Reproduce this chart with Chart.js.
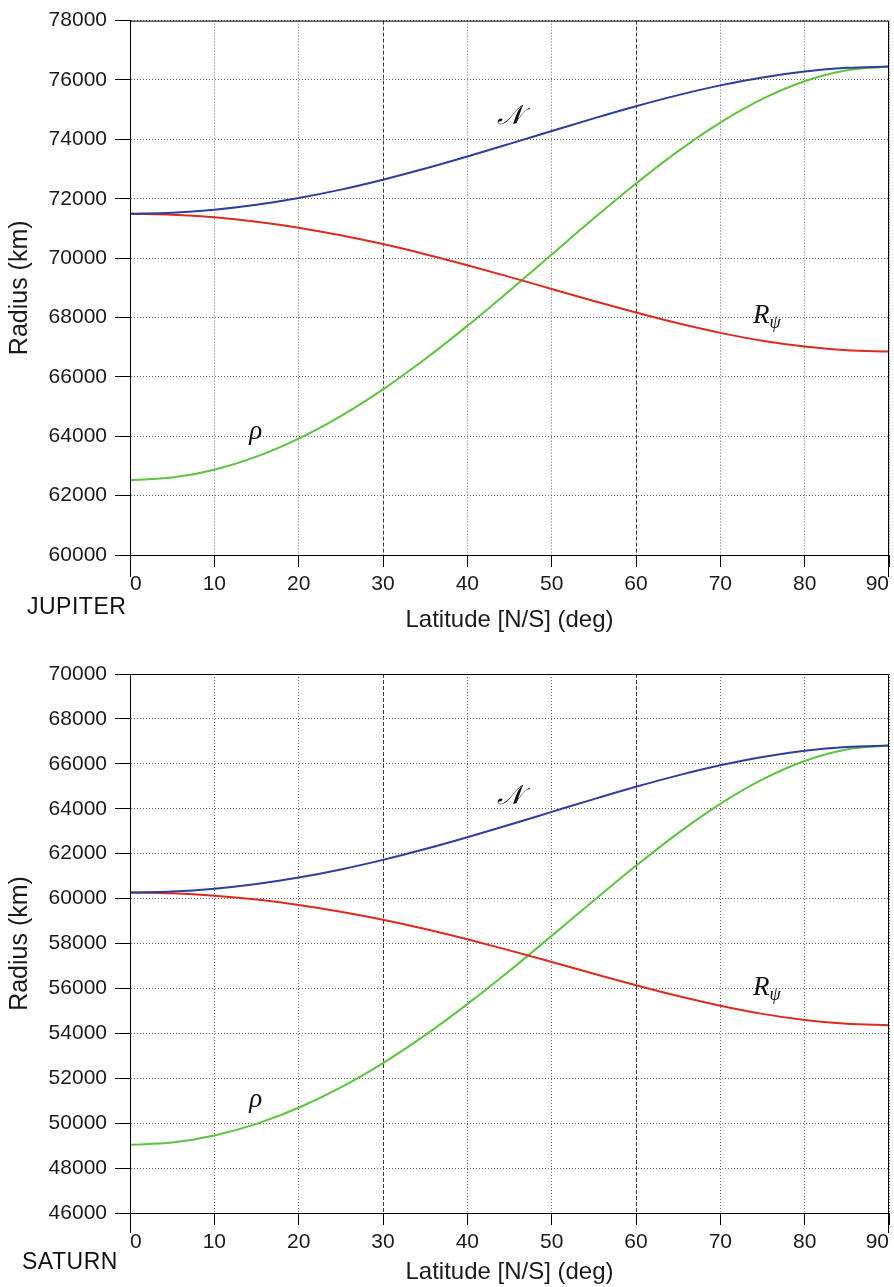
<!DOCTYPE html>
<html>
<head>
<meta charset="utf-8">
<script src="https://cdn.jsdelivr.net/npm/chart.js@4.4.0/dist/chart.umd.min.js"></script>
<style>
  body { margin: 0; background: #fff; width: 894px; height: 1287px; position: relative; overflow: hidden; }
  canvas { position: absolute; left: 0; }
  #jupiterChart { top: 0; }
  #saturnChart { top: 640px; }
  .planet { position: absolute; font-family: "Liberation Sans", Arial, sans-serif; font-size: 23px; color: #111; letter-spacing: 0.5px; }
</style>
</head>
<body>
<canvas id="jupiterChart" width="894" height="640"></canvas>
<canvas id="saturnChart" width="894" height="647"></canvas>
<div class="planet" style="left:27px;top:593px">JUPITER</div>
<div class="planet" style="left:22px;top:1248px">SATURN</div>

<script>
// latitude samples (deg)
const latitudes = [0, 5, 10, 15, 20, 25, 30, 35, 40, 45, 50, 55, 60, 65, 70, 75, 80, 85, 90];

// Jupiter radii (km)
const jupiterN = [71492, 71526, 71628, 71795, 72023, 72307, 72641, 73016, 73422, 73847, 74280, 74708, 75116, 75490, 75818, 76087, 76287, 76410, 76452];
const jupiterR = [71492, 71462, 71373, 71226, 71025, 70771, 70472, 70132, 69761, 69367, 68961, 68556, 68166, 67803, 67482, 67217, 67019, 66895, 66854];
const jupiterRho = [62517, 62607, 62874, 63314, 63920, 64680, 65580, 66600, 67717, 68902, 70121, 71339, 72513, 73603, 74566, 75362, 75958, 76327, 76452];

// Saturn radii (km)
const saturnN = [60268, 60311, 60438, 60647, 60936, 61297, 61723, 62205, 62731, 63288, 63860, 64430, 64979, 65487, 65936, 66307, 66584, 66755, 66813];
const saturnR = [60268, 60233, 60129, 59957, 59719, 59418, 59058, 58645, 58187, 57694, 57179, 56656, 56144, 55661, 55229, 54866, 54593, 54422, 54364];
const saturnRho = [49039, 49142, 49454, 49970, 50686, 51592, 52675, 53919, 55299, 56786, 58340, 59916, 61460, 62914, 64215, 65304, 66126, 66638, 66813];

// curve labels: name, latitude, radius
const curveNames = ["N", "R", "rho"];
const jupiterLabelLat = [45, 75.6, 14.9];
const jupiterLabelVal = [74750, 68050, 64130];
const saturnLabelLat = [45, 75.6, 14.9];
const saturnLabelVal = [64520, 56020, 51030];

const fontFamily = '"Liberation Sans", Arial, sans-serif';
const textColor = "#1a1a1a";

//turns the series array into {x,y} points
function toPoints(ys) {
  return latitudes.map((lat, i) => ({ x: lat, y: ys[i] }));
}

//is the tick one of the dashed reference meridians
function isRefLine(ctx) {
  return ctx.tick && (ctx.tick.value === 30 || ctx.tick.value === 60);
}

//box around plot area + the little downward extensions of the side lines
const frameBox = {
  id: "frameBox",
  afterDraw(chart, args, opts) {
    const { ctx, chartArea } = chart;
    ctx.save();
    ctx.strokeStyle = "#000";
    ctx.lineWidth = 1;
    ctx.setLineDash([]);
    ctx.beginPath();
    ctx.moveTo(chartArea.left + 0.5, chartArea.bottom);
    ctx.lineTo(chartArea.left + 0.5, chartArea.top + 0.5);
    ctx.lineTo(chartArea.right - 0.5, chartArea.top + 0.5);
    ctx.lineTo(chartArea.right - 0.5, chartArea.bottom + opts.ext);
    ctx.moveTo(chartArea.left + 0.5, chartArea.bottom);
    ctx.lineTo(chartArea.left + 0.5, chartArea.bottom + opts.ext);
    ctx.stroke();
    ctx.restore();
  },
};

//writes the N, R_psi and rho names next to the curves
const curveLabels = {
  id: "curveLabels",
  afterDatasetsDraw(chart, args, opts) {
    const { ctx, scales } = chart;
    ctx.save();
    ctx.fillStyle = "#111";
    ctx.textBaseline = "middle";
    curveNames.forEach((name, i) => {
      const px = scales.x.getPixelForValue(opts.lat[i]);
      const py = scales.y.getPixelForValue(opts.val[i]);
      if (name === "N") {
        ctx.font = 'italic 27px "DejaVu Serif", "Liberation Serif", serif';
        ctx.textAlign = "center";
        ctx.fillText("\u{1D4A9}", px, py);
      } else if (name === "R") {
        ctx.font = 'italic 27px "Liberation Serif", serif';
        ctx.textAlign = "right";
        ctx.fillText("R", px + 2, py);
        ctx.font = 'italic 18px "Liberation Serif", serif';
        ctx.textAlign = "left";
        ctx.fillText("\u03C8", px + 2, py + 7);
      } else {
        ctx.font = 'italic 27px "Liberation Serif", serif';
        ctx.textAlign = "center";
        ctx.fillText("\u03C1", px, py);
      }
    });
    ctx.restore();
  },
};

function makeChart(id, series, yMin, yMax, labelLat, labelVal, layout) {
  return new Chart(id, {
    type: "line",
    data: {
      datasets: [
        { data: toPoints(series[0]), borderColor: "rgb(44, 62, 160)" },
        { data: toPoints(series[1]), borderColor: "rgb(222, 42, 30)" },
        { data: toPoints(series[2]), borderColor: "rgb(92, 196, 64)" },
      ],
    },
    options: {
      responsive: false,
      animation: false,
      devicePixelRatio: 1,
      layout: { padding: { top: layout.top, right: 3, left: 0, bottom: 0 } },
      elements: {
        point: { radius: 0 },
        line: { borderWidth: 2, cubicInterpolationMode: "monotone", fill: false },
      },
      plugins: {
        legend: { display: false },
        tooltip: { enabled: false },
        frameBox: { ext: layout.ext },
        curveLabels: { lat: labelLat, val: labelVal },
      },
      scales: {
        x: {
          type: "linear",
          min: 0,
          max: 90,
          afterFit: (s) => { s.height = layout.xHeight; },
          ticks: {
            stepSize: 10,
            align: "inner",
            padding: 5,
            color: textColor,
            font: { family: fontFamily, size: 21 },
            callback: (v) => String(v),
          },
          grid: {
            color: (ctx) => (isRefLine(ctx) ? "#3a3a3a" : "#6a6a6a"),
            borderDash: (ctx) => (isRefLine(ctx) ? [4, 2] : [1, 2]),
            tickColor: "#000",
            tickLength: 12,
            tickBorderDash: [],
          },
          border: {
            color: "#000",
            dash: (ctx) => (isRefLine(ctx) ? [4, 2] : [1, 2]),
          },
          title: {
            display: true,
            text: "Latitude [N/S] (deg)",
            color: textColor,
            font: { family: fontFamily, size: 24 },
            padding: { top: 0, bottom: layout.titlePad },
          },
        },
        y: {
          min: yMin,
          max: yMax,
          afterFit: (s) => { s.width = 130; },
          ticks: {
            stepSize: 2000,
            padding: 8,
            color: textColor,
            font: { family: fontFamily, size: 21 },
            callback: (v) => String(v),
          },
          grid: {
            color: "#6a6a6a",
            borderDash: [1, 2],
            tickColor: "#000",
            tickLength: 15,
            tickBorderDash: [],
          },
          border: { color: "#000", dash: [1, 2] },
          title: {
            display: true,
            text: "Radius (km)",
            color: textColor,
            font: { family: fontFamily, size: 25 },
            padding: { top: 5, bottom: 0 },
          },
        },
      },
    },
    plugins: [frameBox, curveLabels],
  });
}

makeChart("jupiterChart", [jupiterN, jupiterR, jupiterRho], 60000, 78000,
  jupiterLabelLat, jupiterLabelVal, { top: 18, xHeight: 85, titlePad: 5, ext: 22 });
makeChart("saturnChart", [saturnN, saturnR, saturnRho], 46000, 70000,
  saturnLabelLat, saturnLabelVal, { top: 34, xHeight: 74, titlePad: 0, ext: 20 });
</script>
</body>
</html>
